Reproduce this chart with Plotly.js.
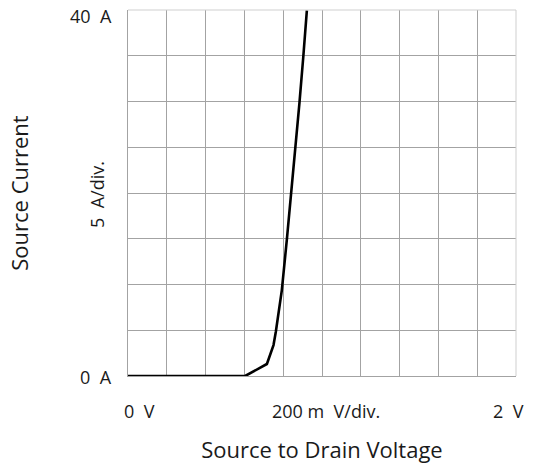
<!DOCTYPE html>
<html>
<head>
<meta charset="utf-8">
<script src="https://cdn.plot.ly/plotly-3.0.1.min.js"></script>
<style>
  html, body { margin: 0; padding: 0; background: #ffffff; }
  #chart { width: 538px; height: 465px; }
</style>
</head>
<body>
<div id="chart"></div>
<script>
// Body diode forward characteristic: source-to-drain voltage (V) vs source current (A)
const vsd = [0, 0.604, 0.716, 0.750, 0.762, 0.784, 0.793, 0.819, 0.841, 0.865, 0.884, 0.904, 0.922];
const isd = [0, 0, 1.31, 3.38, 4.83, 8.29, 9.39, 14.95, 19.97, 25.0, 29.9, 35.0, 39.95];

// Scope-style scale readouts
const xScaleLabels = ["0  V", "200 m  V/div.", "2  V"];
const xScaleLabelPos = [0.06, 1.02, 1.96];
const yScaleLabels = ["40  A", "0  A"];
const yScaleLabelPos = [40, 0];
const yDivLabel = "5  A/div.";

const font = "'Open Sans', 'Noto Sans', sans-serif";
const textColor = "#1a1a1a";
const gridColor = "#a3a3a3";
const labelSize = 18;
const titleSize = 22;

const annotations = [];
xScaleLabels.forEach((t, i) => {
  annotations.push({
    text: t, x: xScaleLabelPos[i], xref: "x", y: 0, yref: "paper",
    yanchor: "middle", xanchor: "center", yshift: -35, showarrow: false,
    font: { family: font, size: labelSize, color: textColor }
  });
});
yScaleLabels.forEach((t, i) => {
  annotations.push({
    text: t, x: 0, xref: "paper", y: yScaleLabelPos[i], yref: "y",
    xanchor: "right", yanchor: "middle", xshift: -14, yshift: i === 0 ? -6 : -1,
    showarrow: false, font: { family: font, size: labelSize, color: textColor }
  });
});
annotations.push({
  text: yDivLabel, x: 0, xref: "paper", y: 0.5, yref: "paper",
  xanchor: "center", yanchor: "middle", xshift: -31, yshift: -2, textangle: -90,
  showarrow: false, font: { family: font, size: labelSize, color: textColor }
});

const trace = {
  x: vsd, y: isd, type: "scatter", mode: "lines",
  line: { color: "#000000", width: 2.6 },
  hoverinfo: "x+y", cliponaxis: true
};

const layout = {
  width: 538, height: 465,
  margin: { l: 128, r: 22, t: 10, b: 89 },
  paper_bgcolor: "#ffffff", plot_bgcolor: "#ffffff",
  showlegend: false,
  font: { family: font, color: textColor },
  xaxis: {
    range: [0, 2], dtick: 0.2, tick0: 0,
    showgrid: true, gridcolor: gridColor, gridwidth: 1,
    zeroline: false, showticklabels: false, ticks: "",
    showline: true, linecolor: gridColor, linewidth: 1,
    fixedrange: true,
    title: { text: "Source to Drain Voltage", standoff: 66,
             font: { family: font, size: titleSize, color: textColor } }
  },
  yaxis: {
    range: [0, 40], dtick: 5, tick0: 0,
    showgrid: true, gridcolor: gridColor, gridwidth: 1,
    zeroline: false, showticklabels: false, ticks: "",
    showline: true, linecolor: gridColor, linewidth: 1,
    fixedrange: true,
    title: { text: "Source Current", standoff: 92,
             font: { family: font, size: titleSize, color: textColor } }
  },
  shapes: [
    { type: "line", xref: "paper", yref: "paper", x0: 0, x1: 1, y0: 1, y1: 1,
      line: { color: "#cfcfcf", width: 1 } },
    { type: "line", xref: "paper", yref: "paper", x0: 1, x1: 1, y0: 0, y1: 1,
      line: { color: "#cfcfcf", width: 1 } }
  ],
  annotations: annotations
};

Plotly.newPlot("chart", [trace], layout, { displayModeBar: false, staticPlot: true });
</script>
</body>
</html>
